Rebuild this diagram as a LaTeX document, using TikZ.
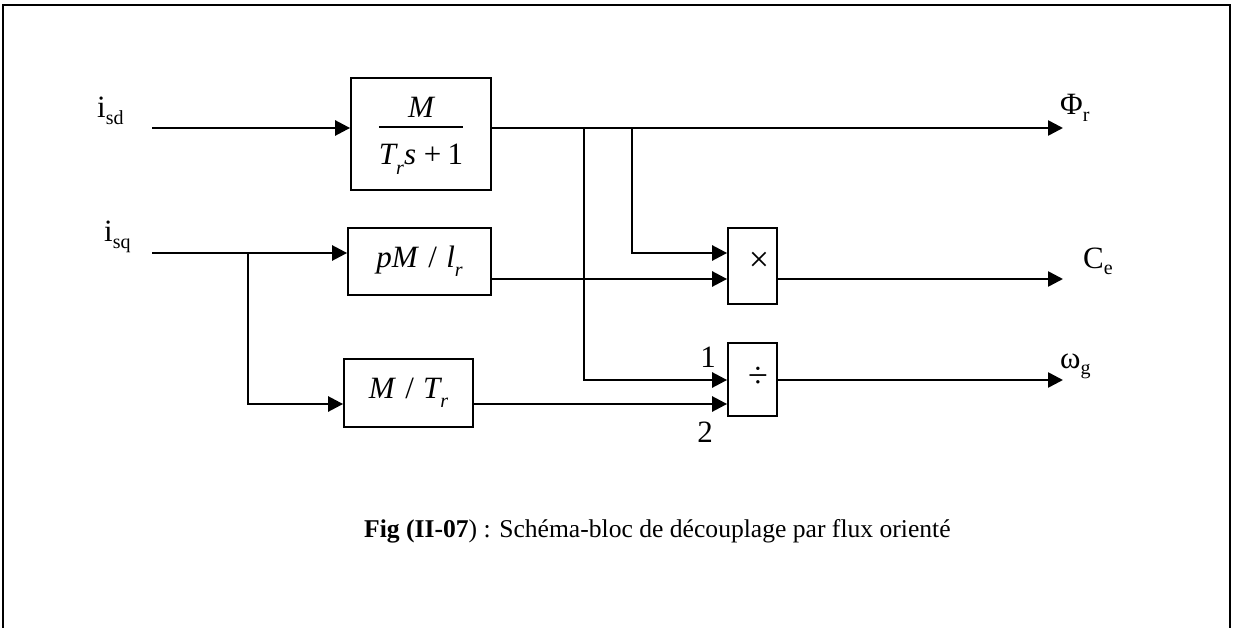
\documentclass[tikz,border=0pt]{standalone}
\usepackage{fontspec}
\setmainfont{Liberation Serif}
\usetikzlibrary{arrows.meta}
\newcommand{\sbs}[1]{\raisebox{-0.2em}{\fontsize{20}{22}\selectfont #1}}
\newcommand{\isub}[1]{\raisebox{-0.3em}{\fontsize{20}{22}\selectfont\itshape #1}}
\begin{document}
\begin{tikzpicture}[x=1pt,y=-1pt,
  blk/.style={draw, line width=1.8pt, inner sep=0pt},
  wire/.style={line width=2.6pt},
  arr/.style={wire, -{Triangle[length=15pt,width=15pt]}},
  lbl/.style={font=\fontsize{31}{36}\selectfont, inner sep=0pt},
  bfont/.style={font=\fontsize{31}{36}\selectfont\itshape},
  opfont/.style={font=\fontsize{36}{40}\selectfont, inner sep=0pt},
  capfont/.style={font=\fontsize{25.6}{30}\selectfont, inner sep=0pt}]
\useasboundingbox (0,0) rectangle (1233,628);
% frame (open at the bottom)
\draw[line width=1.5pt] (3,628) -- (3,5) -- (1230,5) -- (1230,628);

% blocks
\node[blk, bfont, minimum width=140pt, minimum height=112pt] (g1) at (421,134)
  {\setlength{\tabcolsep}{0pt}\setlength{\arrayrulewidth}{1.4pt}%
   \begin{tabular}{c}M\\[-2pt]\hline\rule{0pt}{37pt}T\isub{r}s\hspace{0.25em}\textup{+\hspace{0.2em}1}\end{tabular}};
\node[blk, bfont, minimum width=143pt, minimum height=67pt] (g2) at (419.5,261.5)
  {pM\hspace{0.3em}\textup{/}\hspace{0.3em}l\isub{r}};
\node[blk, bfont, minimum width=129pt, minimum height=68pt] (g3) at (408.5,393)
  {M\hspace{0.3em}\textup{/}\hspace{0.3em}T\isub{r}};
\node[blk, minimum width=49pt, minimum height=76pt] (mul) at (752.5,266) {};
\node[opfont] (mulsym) at (759,262) {×};
\node[blk, minimum width=49pt, minimum height=73pt] (div) at (752.5,379.5) {};
\node[opfont] (divsym) at (758,377) {÷};

% labels
\node[lbl, anchor=base west] (isd) at (97,118) {i\sbs{sd}};
\node[lbl, anchor=base west] (isq) at (104,242) {i\sbs{sq}};
\node[lbl, anchor=base west] (phi) at (1060,115) {Φ\sbs{r}};
\node[lbl, anchor=base west] (ce) at (1083,268) {C\sbs{e}};
\node[lbl, anchor=base west] (wg) at (1060,368) {ω\sbs{g}};
\node[lbl] (one) at (708,357) {1};
\node[lbl] (two) at (705,432) {2};

% coordinates
\coordinate (isdin) at (152,128);
\coordinate (isqin) at (152,253);
\coordinate (phiout) at (1063,128);
\coordinate (ceout) at (1063,279);
\coordinate (wout) at (1063,380);
\coordinate (j1) at (248,253);
\coordinate (j2) at (584,128);
\coordinate (j3) at (632,128);

% connectors
\draw[arr] (isdin) -- (isdin -| g1.west);
\draw[arr] (isqin) -- (isqin -| g2.west);
\draw[arr] (j1) |- (g3.west |- 0,404);
\draw[arr] (g1.east |- phiout) -- (phiout);
\draw[arr] (j3) |- (mul.west |- 0,253);
\draw[arr] (j2) |- (div.west |- 0,380);
\draw[arr] (g2.east |- 0,279) -- (mul.west |- 0,279);
\draw[arr] (g3.east |- 0,404) -- (div.west |- 0,404);
\draw[arr] (mul.east |- ceout) -- (ceout);
\draw[arr] (div.east |- wout) -- (wout);

% caption
\node[capfont, anchor=base west] (cap) at (364,537)
  {\textbf{Fig (II-07}) : Schéma-bloc de découplage par flux orienté};
\end{tikzpicture}
\end{document}
